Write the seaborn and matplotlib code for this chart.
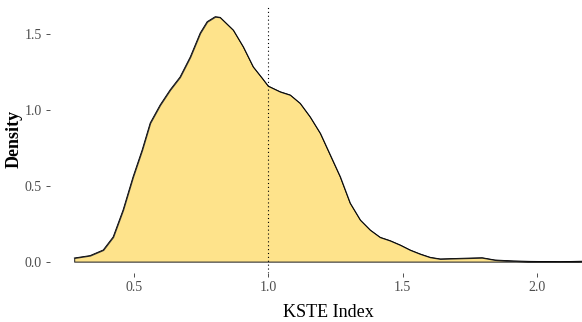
import matplotlib
matplotlib.use("Agg")
import matplotlib.pyplot as plt
import seaborn as sns
import pandas as pd

# Density curve
kste_index = [0.277, 0.336, 0.385, 0.422, 0.459, 0.496, 0.530, 0.560, 0.597, 0.634,
              0.671, 0.709, 0.746, 0.772, 0.802, 0.820, 0.869, 0.906, 0.943, 0.977,
              0.999, 1.044, 1.081, 1.118, 1.155, 1.193, 1.230, 1.267, 1.304, 1.342,
              1.379, 1.416, 1.453, 1.491, 1.528, 1.565, 1.602, 1.640, 1.714, 1.796,
              1.844, 1.912, 1.975, 2.087, 2.168]
density = [0.024, 0.040, 0.077, 0.163, 0.341, 0.559, 0.737, 0.915, 1.034, 1.133,
           1.218, 1.350, 1.508, 1.583, 1.616, 1.612, 1.528, 1.418, 1.286, 1.210,
           1.159, 1.121, 1.100, 1.045, 0.956, 0.847, 0.704, 0.561, 0.387, 0.275,
           0.209, 0.161, 0.139, 0.110, 0.077, 0.051, 0.029, 0.018, 0.022, 0.026,
           0.011, 0.005, 0.002, 0.000, 0.003]
reference_value = 1.0
x_ticks = [0.5, 1.0, 1.5, 2.0]
x_tick_labels = ["0.5", "1.0", "1.5", "2.0"]
y_ticks = [0.0, 0.5, 1.0, 1.5]
y_tick_labels = ["0.0", "0.5", "1.0", "1.5"]

df = pd.DataFrame({"KSTE Index": kste_index, "Density": density})

sns.set_theme(style="white")
plt.rcParams["font.family"] = ["Liberation Serif", "DejaVu Serif"]

fig = plt.figure(figsize=(5.82, 3.22), dpi=100)
ax = fig.add_axes([50 / 582, 49 / 322, 532 / 582, 268 / 322])

ax.fill_between(df["KSTE Index"], df["Density"], 0, facecolor="#FEE38B",
                edgecolor="#333333", linewidth=0.8, zorder=1)
sns.lineplot(data=df, x="KSTE Index", y="Density", color="black",
             linewidth=0.6, ax=ax, zorder=2)
ax.axvline(reference_value, color="black", linestyle=(0, (1, 2.5)),
           linewidth=0.8, zorder=3)

ax.set_xlim(0.187, 2.168)
ax.set_ylim(-0.075, 1.693)
ax.set_xticks(x_ticks)
ax.set_xticklabels(x_tick_labels)
ax.set_yticks(y_ticks)
ax.set_yticklabels(y_tick_labels)

for s in ax.spines.values():
    s.set_visible(False)

ax.tick_params(axis="both", which="major", length=3, width=0.6,
               color="#333333", labelcolor="#4D4D4D", labelsize=10, pad=3,
               left=True, bottom=True)

ax.set_xlabel("KSTE Index", fontsize=13, color="black")
ax.set_ylabel("Density", fontsize=13, color="black", fontweight="bold")
ax.xaxis.set_label_coords((328 - 50) / 532, (273 - 304) / 268)
ax.yaxis.label.set_va("center")
ax.yaxis.set_label_coords((14 - 50) / 532, 0.5)

fig.savefig("out.png", dpi=100)
